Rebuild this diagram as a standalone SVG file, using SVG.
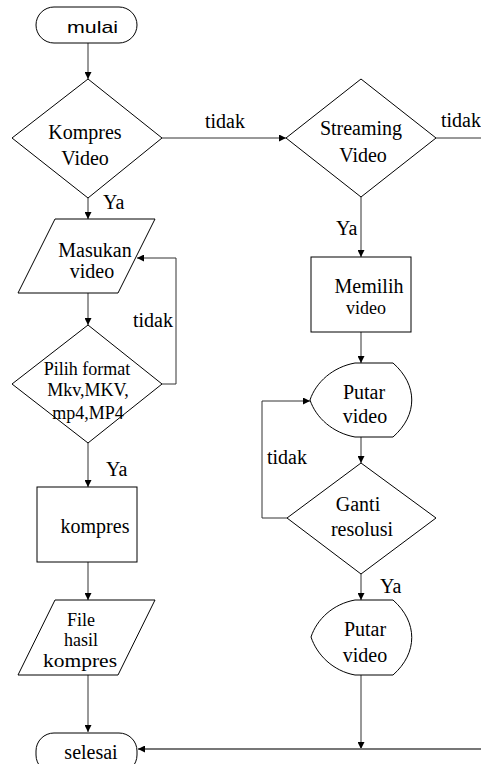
<svg xmlns="http://www.w3.org/2000/svg" width="481" height="764" viewBox="0 0 481 764">
<defs>
<marker id="ah" viewBox="0 0 10 10" refX="10" refY="5" markerWidth="7" markerHeight="7" markerUnits="userSpaceOnUse" orient="auto">
<path d="M0,0 L10,5 L0,10 Z" fill="#000"/>
</marker>
</defs>
<style>
.s{fill:#fff;stroke:#000;stroke-width:1}
.t{font-family:"Liberation Serif","Times New Roman",serif;font-size:20px;fill:#000}
.sm{font-size:18px}
.a{font-family:"Liberation Sans",Arial,sans-serif;font-size:17px;fill:#000}
.c{fill:none;stroke:#333;stroke-width:1}
.g{fill:none;stroke:#777;stroke-width:2}
</style>
<rect width="481" height="764" fill="#fff"/>
<g id="connectors">
<path class="c" d="M88,43 V79" marker-end="url(#ah)"/>
<path class="c" d="M88,198 V219" marker-end="url(#ah)"/>
<path class="c" d="M88,293 V325" marker-end="url(#ah)"/>
<path class="c" d="M162,384 H176 V258 H137" marker-end="url(#ah)"/>
<path class="c" d="M88,443 V487" marker-end="url(#ah)"/>
<path class="c" d="M88,562 V600" marker-end="url(#ah)"/>
<path class="c" d="M88,675 V732" marker-end="url(#ah)"/>
<path class="c" d="M162,138 H286" marker-end="url(#ah)"/>
<path class="c" d="M436,138 H481"/>
<path class="c" d="M361,197 V257" marker-end="url(#ah)"/>
<path class="c" d="M361,332 V363" marker-end="url(#ah)"/>
<path class="c" d="M361,437 V463" marker-end="url(#ah)"/>
<path class="c" d="M287,518 H262 V401 H310" marker-end="url(#ah)"/>
<path class="c" d="M361,574 V600" marker-end="url(#ah)"/>
<path class="c" stroke="#555" d="M361,675 V749" marker-end="url(#ah)"/>
<path class="g" d="M481,749 H138" marker-end="url(#ah)"/>
<text class="t" x="103" y="209">Ya</text>
<text class="t" x="133" y="327">tidak</text>
<text class="t" x="106" y="476">Ya</text>
<text class="t" x="205" y="128">tidak</text>
<text class="t" x="441" y="127">tidak</text>
<text class="t" x="336" y="235">Ya</text>
<text class="t" x="267" y="464">tidak</text>
<text class="t" x="380" y="593">Ya</text>
</g>
<g id="mulai">
<rect class="s" x="36" y="7" width="101" height="36" rx="18"/>
<text class="a" x="67" y="33" textLength="51" lengthAdjust="spacingAndGlyphs">mulai</text>
</g>
<g id="kompres-video">
<path class="s" d="M88,79 L162,138 L88,198 L12,138 Z"/>
<text class="t" x="85" y="139" text-anchor="middle">Kompres</text>
<text class="t" x="85" y="165" text-anchor="middle">Video</text>
</g>
<g id="masukan-video">
<path class="s" d="M55,219 H155 L118,293 H18 Z"/>
<text class="t" x="95" y="257" text-anchor="middle">Masukan</text>
<text class="t" x="92" y="278" text-anchor="middle">video</text>
</g>
<g id="pilih-format">
<path class="s" d="M88,325 L162,384 L88,443 L12,384 Z"/>
<text class="t sm" x="87" y="375" text-anchor="middle">Pilih format</text>
<text class="t sm" x="88" y="396" text-anchor="middle">Mkv,MKV,</text>
<text class="t sm" x="88" y="419" text-anchor="middle">mp4,MP4</text>
</g>
<g id="kompres">
<rect class="s" x="37" y="487" width="100" height="75"/>
<text class="t" x="95" y="533" text-anchor="middle">kompres</text>
</g>
<g id="file-hasil">
<path class="s" d="M55,600 H155 L118,675 H18 Z"/>
<text class="t sm" x="81" y="626" text-anchor="middle">File</text>
<text class="t sm" x="81" y="646" text-anchor="middle">hasil</text>
<text class="t sm" x="80" y="667" text-anchor="middle" textLength="74" lengthAdjust="spacingAndGlyphs">kompres</text>
</g>
<g id="selesai">
<rect class="s" x="36" y="733" width="101" height="40" rx="18"/>
<text class="t" x="91" y="759" text-anchor="middle">selesai</text>
</g>
<g id="streaming-video">
<path class="s" d="M361,79 L436,138 L361,197 L286,138 Z"/>
<text class="t" x="361" y="135" text-anchor="middle">Streaming</text>
<text class="t" x="363" y="162" text-anchor="middle">Video</text>
</g>
<g id="memilih-video">
<rect class="s" x="311" y="257" width="100" height="75"/>
<text class="t" x="369" y="293" text-anchor="middle">Memilih</text>
<text class="t sm" x="366" y="314" text-anchor="middle">video</text>
</g>
<g id="putar-video-1">
<path class="s" d="M355,363 H393 C418,385 418,415 393,437 H355 C333,433 316,418 310,400 C316,382 333,367 355,363 Z"/>
<text class="t" x="364" y="399" text-anchor="middle">Putar</text>
<text class="t" x="365" y="423" text-anchor="middle">video</text>
</g>
<g id="ganti-resolusi">
<path class="s" d="M361,463 L436,518 L361,574 L287,518 Z"/>
<text class="t" x="358" y="511" text-anchor="middle">Ganti</text>
<text class="t" x="362" y="536" text-anchor="middle">resolusi</text>
</g>
<g id="putar-video-2">
<path class="s" d="M355,600 H393 C418,622 418,653 393,675 H355 C333,671 317,655 311,637 C317,619 333,604 355,600 Z"/>
<text class="t" x="365" y="636" text-anchor="middle">Putar</text>
<text class="t" x="365" y="662" text-anchor="middle">video</text>
</g>
</svg>
